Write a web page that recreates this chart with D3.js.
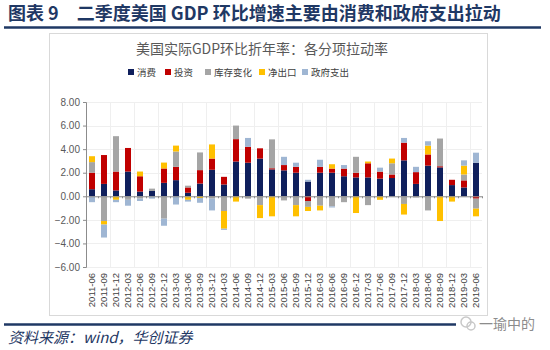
<!DOCTYPE html>
<html>
<head>
<meta charset="utf-8">
<script src="https://cdn.jsdelivr.net/npm/d3@7"></script>
<style>
  body { margin: 0; background: #fff; }
  svg { display: block; }
</style>
</head>
<body>
<div id="chart"></div>
<script>
// quarters (tick labels)
const quarters = ["2011-06","2011-09","2011-12","2012-03","2012-06","2012-09","2012-12",
  "2013-03","2013-06","2013-09","2013-12","2014-03","2014-06","2014-09","2014-12",
  "2015-03","2015-06","2015-09","2015-12","2016-03","2016-06","2016-09","2016-12",
  "2017-03","2017-06","2017-09","2017-12","2018-03","2018-06","2018-09","2018-12",
  "2019-03","2019-06"];

// contributions, percentage points
const consumption = [0.6,1.05,0.5,2.1,0.4,0.45,1.14,1.37,0.3,1.08,2.25,1.0,2.95,2.85,3.2,
  2.28,2.2,2.0,1.25,2.0,2.0,1.7,1.6,1.6,1.5,1.55,3.05,1.05,2.6,2.45,0.95,0.75,2.85];
const investment = [1.4,2.45,1.6,2.0,1.3,0,1.22,1.13,0.45,1.14,0.95,0.65,1.9,1.35,0.87,
  0.1,0.45,0.5,-0.4,0.5,0.35,0.65,0.4,1.2,0.58,0.3,1.5,1.0,0.95,0.1,0.45,0.6,-0.2];
const inventory = [0.9,-2.1,3.0,-0.3,-0.2,0.2,-1.9,1.3,0.15,1.5,-0.2,-1.25,1.15,-0.2,-0.75,
  2.45,-0.35,-0.75,-0.5,-0.8,-0.85,-0.5,1.35,-0.75,0.05,0.95,-0.65,-0.1,-1.2,2.35,0,0.5,-0.85];
const netExports = [0.5,-0.3,-0.3,0,0.4,0,0.5,0.5,-0.3,-0.15,1.2,-1.5,-0.45,0,-1.1,
  -1.7,0,-0.95,-0.35,-0.4,0.37,0,-1.42,0.15,-0.3,0.4,-0.9,0,0.75,-2.1,-0.45,0.75,-0.65];
const government = [-0.5,-1.1,-0.2,-0.5,-0.2,-0.2,-0.6,-0.7,-0.15,-0.4,-1.0,-0.1,0,0.75,0,
  0,0.7,0.35,0.15,0.6,-0.1,0.3,0,0,0.3,0,0.4,0.45,0.37,0,0,0.45,0.85];

const seriesNames = ["消费", "投资", "库存变化", "净出口", "政府支出"];
const seriesData = [consumption, investment, inventory, netExports, government];
const colors = ["#0F1F5C", "#C00000", "#A5A5A5", "#FFC000", "#9FB6D3"];

const width = 550, height = 350;

const svg = d3.select("#chart")
    .append("svg")
    .attr("width", width)
    .attr("height", height)
    .style("font-family", "'Liberation Sans', Arial, sans-serif");

// header
svg.append("text")
    .attr("x", 8)
    .attr("y", 20)
    .attr("fill", "#1F3864")
    .style("font-family", "'Noto Sans CJK SC', sans-serif")
    .style("font-size", "18px")
    .style("font-weight", "bold")
    .text("图表 9　二季度美国 GDP 环比增速主要由消费和政府支出拉动");

svg.append("line")
    .attr("x1", 4).attr("x2", 541)
    .attr("y1", 27.5).attr("y2", 27.5)
    .attr("stroke", "#1F3864")
    .attr("stroke-width", 2.5);

// chart panel
svg.append("rect")
    .attr("x", 49.5).attr("y", 33.5)
    .attr("width", 438).attr("height", 282)
    .attr("fill", "#fff")
    .attr("stroke", "#D9D9D9");

svg.append("text")
    .attr("x", 262)
    .attr("y", 54)
    .attr("text-anchor", "middle")
    .attr("fill", "#595959")
    .style("font-family", "'Noto Sans CJK SC', sans-serif")
    .style("font-size", "14px")
    .text("美国实际GDP环比折年率：各分项拉动率");

// legend
const legendX = [128, 165, 205, 259, 302];
const legend = svg.append("g")
    .selectAll("g")
    .data(seriesNames)
    .enter().append("g")
    .attr("transform", (d, i) => `translate(${legendX[i]},73)`);
legend.append("rect")
    .attr("x", 0).attr("y", -4)
    .attr("width", 6).attr("height", 6)
    .attr("fill", (d, i) => colors[i]);
legend.append("text")
    .attr("x", 9)
    .attr("y", 3)
    .attr("fill", "#404040")
    .style("font-family", "'Noto Sans CJK SC', sans-serif")
    .style("font-size", "9.5px")
    .text(d => d);

// scales
const x = d3.scaleBand()
    .domain(quarters)
    .range([86, 482])
    .paddingInner(0.5)
    .paddingOuter(0.25);

const xEdge = d3.scaleLinear()
    .domain([0, quarters.length])
    .range([86, 482]);

const y = d3.scaleLinear()
    .domain([-6, 8])
    .range([267, 102]);

const yTicks = d3.range(-6, 9, 2);

// gridlines
svg.append("g")
    .selectAll("line")
    .data(yTicks)
    .enter().append("line")
    .attr("x1", 86).attr("x2", 482)
    .attr("y1", d => Math.round(y(d)) + 0.5)
    .attr("y2", d => Math.round(y(d)) + 0.5)
    .attr("stroke", "#EFEFEF");
svg.append("g")
    .selectAll("line")
    .data(d3.range(2, quarters.length + 1, 2))
    .enter().append("line")
    .attr("x1", d => Math.round(xEdge(d)) + 0.5)
    .attr("x2", d => Math.round(xEdge(d)) + 0.5)
    .attr("y1", 102).attr("y2", 267)
    .attr("stroke", "#EFEFEF");

// stacked bars
const rows = quarters.map((q, i) => {
    const r = { quarter: q };
    seriesNames.forEach((s, j) => { r[s] = seriesData[j][i]; });
    return r;
});
const stacked = d3.stack()
    .keys(seriesNames)
    .offset(d3.stackOffsetDiverging)(rows);

svg.append("g")
    .selectAll("g")
    .data(stacked)
    .enter().append("g")
    .attr("fill", (d, i) => colors[i])
    .selectAll("rect")
    .data(d => d)
    .enter().append("rect")
    .attr("x", d => x(d.data.quarter))
    .attr("y", d => y(d[1]))
    .attr("width", x.bandwidth())
    .attr("height", d => Math.max(0, y(d[0]) - y(d[1])));

// y axis
const yAxis = svg.append("g")
    .attr("transform", "translate(86,0)")
    .call(d3.axisLeft(y).tickValues(yTicks).tickFormat(d3.format(".2f")).tickSize(3));
yAxis.select(".domain").attr("stroke", "#8C8C8C");
yAxis.selectAll(".tick line").attr("stroke", "#8C8C8C");
yAxis.selectAll(".tick text")
    .attr("fill", "#595959")
    .style("font-size", "10px")
    .style("font-family", "'Liberation Sans', Arial, sans-serif");

// zero line with category ticks
const zeroAxis = svg.append("g")
    .attr("transform", `translate(0,${y(0)})`)
    .call(d3.axisBottom(xEdge).tickValues(d3.range(0, quarters.length + 1)).tickFormat("").tickSize(2).tickSizeOuter(0));
zeroAxis.select(".domain").attr("stroke", "#8C8C8C");
zeroAxis.selectAll(".tick line").attr("stroke", "#8C8C8C");

// category labels at the bottom
const xAxis = svg.append("g")
    .attr("transform", "translate(0,273)")
    .call(d3.axisBottom(x).tickSize(0));
xAxis.select(".domain").remove();
xAxis.selectAll(".tick text")
    .attr("fill", "#404040")
    .style("font-size", "9.5px")
    .style("font-family", "'Liberation Sans', Arial, sans-serif")
    .style("text-anchor", "end")
    .attr("x", 0)
    .attr("y", 0)
    .attr("dy", "0.35em")
    .attr("transform", "rotate(-90)");

// footer
svg.append("line")
    .attr("x1", 4).attr("x2", 456)
    .attr("y1", 324.5).attr("y2", 324.5)
    .attr("stroke", "#1F3864")
    .attr("stroke-width", 2.5);
svg.append("circle")
    .attr("cx", 466).attr("cy", 322).attr("r", 5)
    .attr("fill", "none").attr("stroke", "#C8C8C8").attr("stroke-width", 1.5);
svg.append("circle")
    .attr("cx", 471).attr("cy", 326).attr("r", 4)
    .attr("fill", "none").attr("stroke", "#C8C8C8").attr("stroke-width", 1.5);
svg.append("text")
    .attr("x", 479)
    .attr("y", 329)
    .attr("fill", "#8C8C8C")
    .style("font-family", "'Noto Sans CJK SC', sans-serif")
    .style("font-size", "14px")
    .text("一瑜中的");

svg.append("text")
    .attr("x", 8)
    .attr("y", 343)
    .attr("fill", "#1F3864")
    .style("font-family", "'Noto Sans CJK SC', sans-serif")
    .style("font-size", "15px")
    .style("font-style", "italic")
    .text("资料来源：wind，华创证券");
</script>
</body>
</html>
